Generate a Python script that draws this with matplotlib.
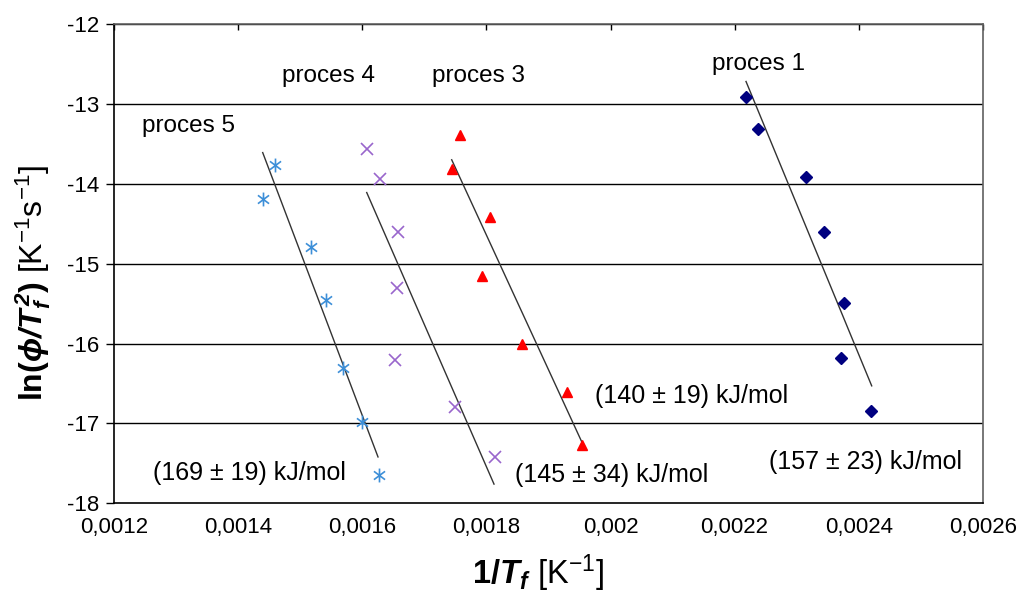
import numpy as np
import matplotlib
matplotlib.use("Agg")
import matplotlib.pyplot as plt
from matplotlib.path import Path
from matplotlib.ticker import FuncFormatter

plt.rcParams['font.family'] = ['Liberation Sans', 'DejaVu Sans']
plt.rcParams['mathtext.fontset'] = 'custom'
plt.rcParams['mathtext.rm'] = 'Liberation Sans'
plt.rcParams['mathtext.it'] = 'Liberation Sans:italic'
plt.rcParams['mathtext.bf'] = 'Liberation Sans:bold'
plt.rcParams['mathtext.bfit'] = 'Liberation Sans:bold:italic'

# proces 1 (navy diamonds)
x1 = [0.0022184, 0.0022377, 0.0023151, 0.0023441, 0.0023768, 0.0023715, 0.0024194]
y1 = [-12.92, -13.31, -13.92, -14.60, -15.49, -16.18, -16.84]
fit1_x = [0.0022184, 0.0024210]
fit1_y = [-12.72, -16.53]

# proces 3 (red triangles)
x3 = [0.0017573, 0.0017439, 0.0018057, 0.0017923, 0.0018568, 0.0019303, 0.0019545]
y3 = [-13.39, -13.81, -14.42, -15.15, -16.00, -16.61, -17.27]
fit3_x = [0.0017439, 0.0019535]
fit3_y = [-13.70, -17.23]

# proces 4 (purple crosses)
x4 = [0.0016069, 0.0016279, 0.0016569, 0.0016553, 0.0016525, 0.0017497, 0.0018137]
y4 = [-13.57, -13.94, -14.61, -15.30, -16.21, -16.80, -17.42]
fit4_x = [0.0016069, 0.0018121]
fit4_y = [-14.11, -17.76]

# proces 5 (blue asterisks)
x5 = [0.0014591, 0.0014392, 0.0015171, 0.0015408, 0.0015692, 0.0015988, 0.0016262]
y5 = [-13.76, -14.19, -14.79, -15.45, -16.31, -16.98, -17.65]
fit5_x = [0.0014392, 0.0016251]
fit5_y = [-13.61, -17.42]

# Excel style asterisk: vertical bar plus an x
star = Path([(0, -1), (0, 1), (-0.8, -0.6), (0.8, 0.6), (-0.8, 0.6), (0.8, -0.6)],
            [Path.MOVETO, Path.LINETO, Path.MOVETO, Path.LINETO, Path.MOVETO, Path.LINETO])

fig = plt.figure(figsize=(10.19, 5.98), dpi=100)
ax = fig.add_axes([0.1122, 0.1584, 0.8522, 0.8015])

for yv in range(-17, -11):
    ax.axhline(yv, color='black', lw=1.0, zorder=1)

ax.plot(fit1_x, fit1_y, color='#333333', lw=1.0, zorder=2)
ax.plot(fit3_x, fit3_y, color='#333333', lw=1.0, zorder=2)
ax.plot(fit4_x, fit4_y, color='#333333', lw=1.0, zorder=2)
ax.plot(fit5_x, fit5_y, color='#333333', lw=1.0, zorder=2)

ax.plot(x1, y1, ls='none', marker='D', ms=6.5, color='#000080', zorder=3)
ax.plot(x3, y3, ls='none', marker='^', ms=7, color='#ff0000', zorder=3)
ax.plot(x4, y4, ls='none', marker='x', ms=9, mew=1.2, color='#9966cc', zorder=3)
ax.plot(x5, y5, ls='none', marker=star, ms=10, mew=1.2, color='#3d8fd8', zorder=3)

fs = 18
ax.text(0.0012448, -13.28, 'proces 5', fontsize=17.5, va='center')
ax.text(0.0014703, -12.65, 'proces 4', fontsize=17.5, va='center')
ax.text(0.0017122, -12.65, 'proces 3', fontsize=17.5, va='center')
ax.text(0.0021636, -12.50, 'proces 1', fontsize=17.5, va='center')
ax.text(0.0012629, -17.62, '(169 \u00b1 19) kJ/mol', fontsize=fs, va='center')
ax.text(0.0018460, -17.65, '(145 \u00b1 34) kJ/mol', fontsize=fs, va='center')
ax.text(0.0019749, -16.66, '(140 \u00b1 19) kJ/mol', fontsize=fs, va='center')
ax.text(0.0022555, -17.48, '(157 \u00b1 23) kJ/mol', fontsize=fs, va='center')

ax.set_xlim(0.0012, 0.0026)
ax.set_ylim(-18, -12)
ax.set_xticks(np.arange(0.0012, 0.00261, 0.0002))
ax.set_yticks(range(-18, -11))
ax.xaxis.set_major_formatter(FuncFormatter(lambda v, p: ('%g' % round(v, 5)).replace('.', ',')))
ax.yaxis.set_major_formatter(FuncFormatter(lambda v, p: '%d' % v))
ax.tick_params(axis='x', which='major', direction='in', bottom=False, top=True,
               length=4, width=1, labelsize=16, pad=10)
ax.tick_params(axis='y', which='major', direction='out', length=6, width=1,
               labelsize=16, pad=5)

for side in ['left', 'bottom']:
    ax.spines[side].set_color('black')
    ax.spines[side].set_linewidth(1.2)
for side in ['right', 'top']:
    ax.spines[side].set_color('#606060')
    ax.spines[side].set_linewidth(1.2)

ax.set_ylabel(r'$\mathbf{ln(}\mathbfit{\phi/T_f^{\,2}}\mathbf{)}$ [K$^{-1}$s$^{-1}$]',
              fontsize=23, labelpad=10)
ax.yaxis.label.set_y(0.46)
ax.set_xlabel(r'$\mathbf{1/}\mathbfit{T_f}$ [K$^{-1}$]', fontsize=23.5, labelpad=10)
ax.xaxis.label.set_x(0.488)

fig.savefig('out.png', dpi=100, facecolor='white')
